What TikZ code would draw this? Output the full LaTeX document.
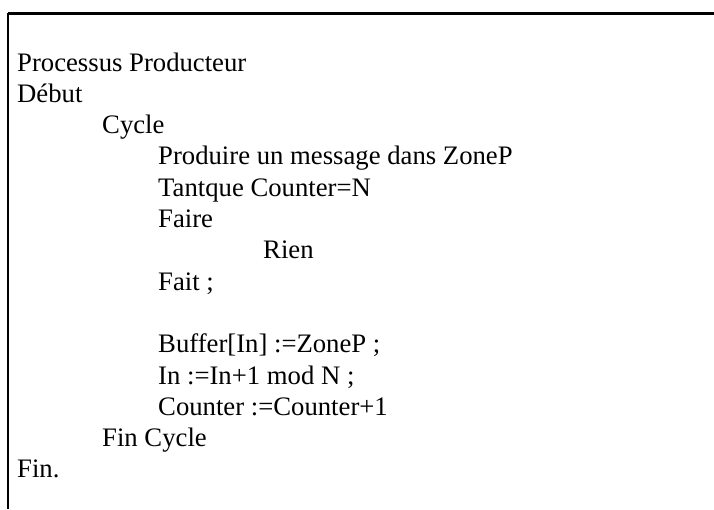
\documentclass[tikz,border=0pt]{standalone}
\usepackage{fontspec}
\setmainfont{Liberation Serif}
\begin{document}
\begin{tikzpicture}[x=1pt,y=-1pt,
  txt/.style={anchor=base west,inner sep=0pt,font=\fontsize{26.7}{31.3}\selectfont},
  frame/.style={line width=2.8pt}]
\useasboundingbox (0,0) rectangle (714,509);
\coordinate (tl) at (8,13.3);
\coordinate (tr) at (714,13.3);
\coordinate (bl) at (8,509);
\draw[frame] (tl) -- (tr);
\draw[frame] (tl) -- (bl);
\def\ls{31.3}
\node[txt] (l0) at (17,71) {Processus Producteur};
\node[txt] (l1) at (17,71+\ls) {Début};
\node[txt] (l2) at (102,71+2*\ls) {Cycle};
\node[txt] (l3) at (158,71+3*\ls) {Produire un message dans ZoneP};
\node[txt] (l4) at (158,71+4*\ls) {Tantque Counter=N};
\node[txt] (l5) at (158,71+5*\ls) {Faire};
\node[txt] (l6) at (263,71+6*\ls) {Rien};
\node[txt] (l7) at (158,71+7*\ls) {Fait ;};
\node[txt] (l9) at (158,71+9*\ls) {Buffer[In] :=ZoneP ;};
\node[txt] (l10) at (158,71+10*\ls) {In :=In+1 mod N ;};
\node[txt] (l11) at (158,71+11*\ls) {Counter :=Counter+1};
\node[txt] (l12) at (102,71+12*\ls) {Fin Cycle};
\node[txt] (l13) at (17,71+13*\ls) {Fin.};
\end{tikzpicture}
\end{document}
